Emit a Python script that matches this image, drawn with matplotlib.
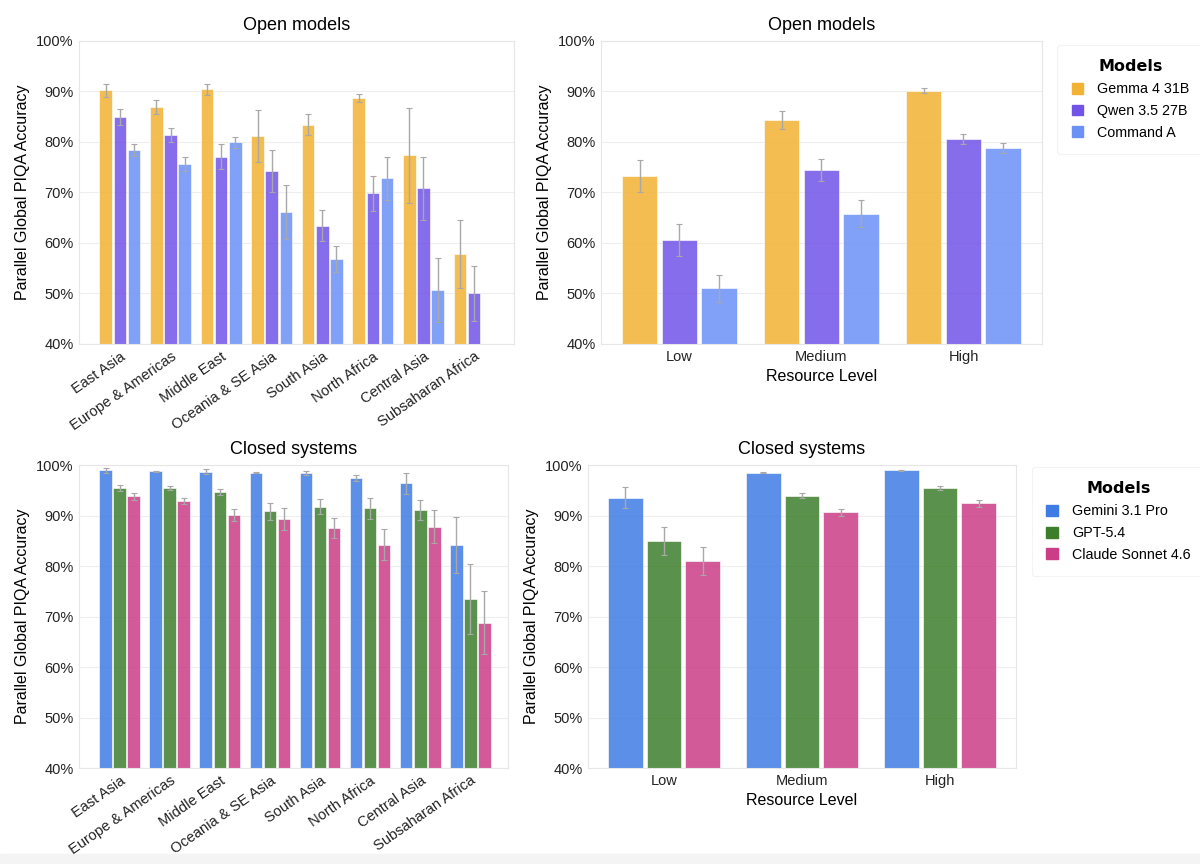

# Parallel Global PIQA accuracy by region and by resource level
import numpy as np
import matplotlib.pyplot as plt
from matplotlib.patches import Rectangle
from matplotlib.ticker import PercentFormatter

plt.rcParams['font.family'] = ['Liberation Sans', 'DejaVu Sans']

# data
regions = ["East Asia", "Europe & Americas", "Middle East", "Oceania & SE Asia",
           "South Asia", "North Africa", "Central Asia", "Subsaharan Africa"]
levels = ["Low", "Medium", "High"]

open_models = ["Gemma 4 31B", "Qwen 3.5 27B", "Command A"]
closed_models = ["Gemini 3.1 Pro", "GPT-5.4", "Claude Sonnet 4.6"]

open_colors = ["#F2B233", "#7153E8", "#6B91F7"]
closed_colors = ["#3E7BE4", "#3D7E2C", "#CB3D86"]

# accuracy by region (%)
gemma_region = [90.2, 86.9, 90.4, 81.2, 83.4, 88.7, 77.4, 57.8]
gemma_region_err = [1.3, 1.4, 1.1, 5.1, 2.1, 0.7, 9.4, 6.7]
qwen_region = [84.9, 81.4, 77.1, 74.2, 63.4, 69.8, 70.8, 50.0]
qwen_region_err = [1.6, 1.4, 2.4, 4.2, 3.1, 3.5, 6.3, 5.4]
command_region = [78.35, 75.6, 79.9, 66.1, 56.8, 72.8, 50.7, np.nan]
command_region_err = [1.2, 1.4, 1.1, 5.4, 2.5, 4.3, 6.4, np.nan]

gemini_region = [99.0, 98.8, 98.7, 98.5, 98.4, 97.5, 96.4, 84.2]
gemini_region_err = [0.5, 0.1, 0.5, 0.1, 0.4, 0.6, 2.1, 5.6]
gpt_region = [95.4, 95.5, 94.7, 90.8, 91.7, 91.4, 91.1, 73.4]
gpt_region_err = [0.6, 0.4, 0.6, 1.6, 1.5, 2.1, 1.9, 6.9]
claude_region = [93.8, 92.8, 90.1, 89.3, 87.5, 84.2, 87.8, 68.8]
claude_region_err = [0.7, 0.6, 1.1, 2.2, 2.0, 3.1, 3.2, 6.2]

# accuracy by resource level (%)
gemma_level = [73.3, 84.4, 90.1]
gemma_level_err = [3.2, 1.8, 0.5]
qwen_level = [60.6, 74.5, 80.6]
qwen_level_err = [3.1, 2.15, 1.0]
command_level = [51.0, 65.8, 78.8]
command_level_err = [2.6, 2.7, 1.0]

gemini_level = [93.5, 98.5, 99.0]
gemini_level_err = [2.1, 0.1, 0.1]
gpt_level = [85.0, 93.9, 95.5]
gpt_level_err = [2.75, 0.5, 0.4]
claude_level = [81.0, 90.6, 92.4]
claude_level_err = [2.8, 0.65, 0.7]


def draw_panel(ax, cats, series, errs, colors, title, rotate, xlim):
    x = np.arange(len(cats))
    for i, (vals, err, col) in enumerate(zip(series, errs, colors)):
        pos = x + (i - 1) * 0.28
        ax.bar(pos, vals, width=0.25, color=col, alpha=0.85,
               edgecolor="white", linewidth=0.5, zorder=2)
        ax.errorbar(pos, vals, yerr=err, fmt="none", ecolor="#a8a8a8",
                    elinewidth=1, capsize=2.5, capthick=0.8, zorder=3)
    ax.set_ylim(40, 100)
    ax.set_xlim(*xlim)
    ax.set_yticks(range(40, 101, 10))
    ax.yaxis.set_major_formatter(PercentFormatter(decimals=0))
    ax.grid(axis="y", color="#eeeeee", linewidth=0.8, zorder=0)
    ax.set_axisbelow(True)
    for s in ax.spines.values():
        s.set_color("#e6e6e6")
    ax.tick_params(length=0, labelsize=10.5, colors="#222222", pad=4)
    ax.set_xticks(x)
    if rotate:
        ax.set_xticklabels(cats, rotation=35, ha="right", rotation_mode="anchor")
    else:
        ax.set_xticklabels(cats)
        ax.set_xlabel("Resource Level", fontsize=11.5)
    ax.set_ylabel("Parallel Global PIQA Accuracy", fontsize=11.5)
    ax.set_title(title, fontsize=13, pad=8)


fig = plt.figure(figsize=(12, 8.64), dpi=100)
fig.patches.append(Rectangle((0, 0), 1, 0.011, transform=fig.transFigure,
                             color="#f4f4f4", zorder=-1))

ax1 = fig.add_axes([0.0658, 0.6019, 0.3625, 0.3507])
ax2 = fig.add_axes([0.5008, 0.6019, 0.3675, 0.3507])
ax3 = fig.add_axes([0.0658, 0.1111, 0.3575, 0.3507])
ax4 = fig.add_axes([0.4900, 0.1111, 0.3567, 0.3507])

draw_panel(ax1, regions, [gemma_region, qwen_region, command_region],
           [gemma_region_err, qwen_region_err, command_region_err],
           open_colors, "Open models", True, (-0.81, 7.79))
draw_panel(ax2, levels, [gemma_level, qwen_level, command_level],
           [gemma_level_err, qwen_level_err, command_level_err],
           open_colors, "Open models", False, (-0.553, 2.553))
draw_panel(ax3, regions, [gemini_region, gpt_region, claude_region],
           [gemini_region_err, gpt_region_err, claude_region_err],
           closed_colors, "Closed systems", True, (-0.81, 7.75))
draw_panel(ax4, levels, [gemini_level, gpt_level, claude_level],
           [gemini_level_err, gpt_level_err, claude_level_err],
           closed_colors, "Closed systems", False, (-0.55, 2.55))

# legends
for names, cols, anchor in [(open_models, open_colors, (0.881, 0.948)),
                            (closed_models, closed_colors, (0.86, 0.4595))]:
    handles = [Rectangle((0, 0), 1, 1, color=c) for c in cols]
    leg = fig.legend(handles, names, loc="upper left", bbox_to_anchor=anchor,
                     title="Models", fontsize=10.3, frameon=True,
                     borderaxespad=0, handlelength=0.8, handleheight=0.8,
                     handletextpad=1.0, borderpad=1.0, labelspacing=0.55)
    leg.get_title().set_fontfamily("DejaVu Sans")
    leg.get_title().set_fontweight("bold")
    leg.get_title().set_fontsize(11.5)
    leg.get_frame().set_edgecolor("#f0f0f0")
    leg.get_frame().set_linewidth(0.8)

fig.savefig("out.png", dpi=100)
